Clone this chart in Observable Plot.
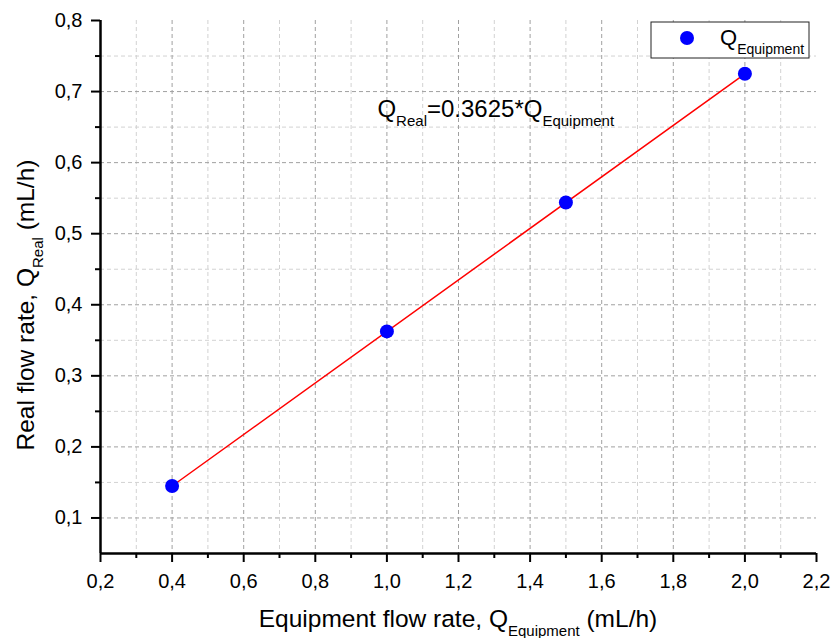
<!DOCTYPE html>
<html><head><meta charset="utf-8">
<script src="https://cdn.jsdelivr.net/npm/d3@7"></script>
<script src="https://cdn.jsdelivr.net/npm/@observablehq/plot@0.6"></script>
<style>
html,body{margin:0;padding:0;background:#fff;}
#chart svg{display:block;}
</style></head><body><div id="chart"></div>
<script>
// ---- data ----
const equipmentFlow = [0.4, 1.0, 1.5, 2.0];
const realFlow = [0.145, 0.3625, 0.544, 0.725];
const fitX = [0.4, 2.0];
const fitY = [0.145, 0.725];
const xMajorTicks = [0.2, 0.4, 0.6, 0.8, 1.0, 1.2, 1.4, 1.6, 1.8, 2.0, 2.2];
const xMinorTicks = [0.3, 0.5, 0.7, 0.9, 1.1, 1.3, 1.5, 1.7, 1.9, 2.1];
const yMajorTicks = [0.1, 0.2, 0.3, 0.4, 0.5, 0.6, 0.7, 0.8];
const yMinorTicks = [0.15, 0.25, 0.35, 0.45, 0.55, 0.65, 0.75];
const xGridMajor = [0.4, 0.6, 0.8, 1.0, 1.2, 1.4, 1.6, 1.8, 2.0];
const yGridMajor = [0.1, 0.2, 0.3, 0.4, 0.5, 0.6, 0.7];
const xDomain = [0.2, 2.2];
const yDomain = [0.05, 0.8];
const equationParts = ["Q", "Real", "=0.3625*Q", "Equipment"];
const xLabelParts = ["Equipment flow rate, Q", "Equipment", " (mL/h)"];
const yLabelParts = ["Real flow rate, Q", "Real", " (mL/h)"];
const legendParts = ["Q", "Equipment"];

const points = equipmentFlow.map((x, i) => ({x, y: realFlow[i]}));
const fitLine = fitX.map((x, i) => ({x, y: fitY[i]}));

const FONT = "'Liberation Sans', Arial, Helvetica, sans-serif";
const fmt = d => d.toFixed(1).replace(".", ",");

function subText(parent, x, y, parts, big, small, shift) {
  const t = parent.append("text").attr("x", x).attr("y", y).attr("font-size", big).attr("text-anchor", "start");
  parts.forEach((p, i) => {
    const ts = t.append("tspan").text(p);
    if (i % 2 === 1) ts.attr("font-size", small).attr("dy", shift);
    else if (i > 0) ts.attr("dy", -shift);
  });
  return t;
}

function overlay(index, scales, values, dims) {
  const g = d3.create("svg:g").attr("font-family", FONT).attr("fill", "black");
  // equation annotation
  subText(g, scales.x(0.975), scales.y(0.663), equationParts, 24, 15, 9);
  // x label
  subText(g, (dims.marginLeft + dims.width - dims.marginRight) / 2, dims.height - 11, xLabelParts, 24.5, 15, 9)
    .attr("text-anchor", "middle");
  // y label
  subText(g, 0, 0, yLabelParts, 24.5, 15, 9)
    .attr("text-anchor", "middle")
    .attr("transform", `translate(34,305) rotate(-90)`);
  // legend
  const lx = dims.width - dims.marginRight - 165, ly = dims.marginTop + 2;
  g.append("rect").attr("x", lx).attr("y", ly).attr("width", 158).attr("height", 36)
    .attr("fill", "white").attr("stroke", "#222").attr("stroke-width", 1);
  g.append("circle").attr("cx", lx + 36).attr("cy", ly + 16).attr("r", 7).attr("fill", "#0000ff");
  subText(g, lx + 69, ly + 23, legendParts, 22, 14, 9);
  return g.node();
}

const plot = Plot.plot({
  width: 831,
  height: 638,
  marginLeft: 100,
  marginRight: 15,
  marginTop: 20,
  marginBottom: 85,
  style: {fontFamily: FONT, fontSize: "20px", background: "white", color: "black"},
  x: {domain: xDomain},
  y: {domain: yDomain},
  marks: [
    Plot.gridX(xMinorTicks, {stroke: "#d2d2d2", strokeOpacity: 1, strokeDasharray: "4,3"}),
    Plot.gridY(yMinorTicks, {stroke: "#d2d2d2", strokeOpacity: 1, strokeDasharray: "4,3"}),
    Plot.gridX(xGridMajor, {stroke: "#a0a0a0", strokeOpacity: 1, strokeDasharray: "4,3"}),
    Plot.gridY(yGridMajor, {stroke: "#a0a0a0", strokeOpacity: 1, strokeDasharray: "4,3"}),
    Plot.line(fitLine, {x: "x", y: "y", stroke: "#ff0000", strokeWidth: 1.5}),
    Plot.dot(points, {x: "x", y: "y", r: 7, fill: "#0000ff", stroke: "none"}),
    Plot.ruleX([xDomain[0]], {stroke: "black", strokeWidth: 2.5}),
    Plot.ruleY([yDomain[0]], {stroke: "black", strokeWidth: 2.5}),
    Plot.axisX(xMajorTicks, {tickSize: 9, tickPadding: 11, tickFormat: fmt, strokeWidth: 2, stroke: "black", fill: "black", fontSize: 20, label: null}),
    Plot.axisX(xMinorTicks, {tickSize: 5, tickFormat: () => "", strokeWidth: 2, stroke: "black", label: null}),
    Plot.axisY(yMajorTicks, {tickSize: 9, tickPadding: 9, tickFormat: fmt, strokeWidth: 2, stroke: "black", fill: "black", fontSize: 20, label: null}),
    Plot.axisY(yMinorTicks, {tickSize: 5, tickFormat: () => "", strokeWidth: 2, stroke: "black", label: null}),
    overlay
  ]
});
document.getElementById("chart").appendChild(plot);
</script></body></html>
